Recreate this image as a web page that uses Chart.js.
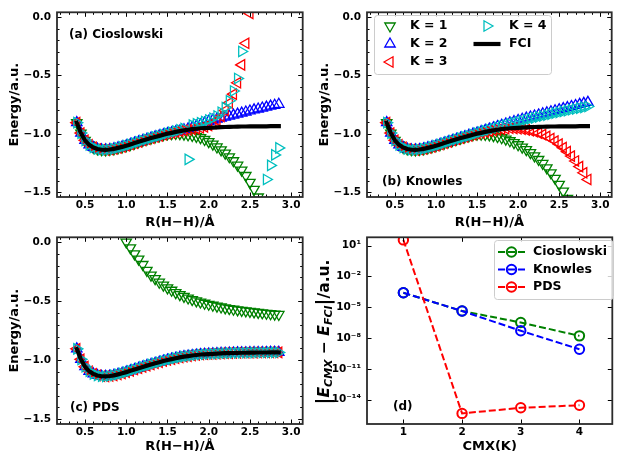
<!DOCTYPE html>
<html>
<head>
<meta charset="utf-8">
<script src="https://cdn.jsdelivr.net/npm/chart.js@4.4.1/dist/chart.umd.min.js"></script>
<style>
html, body { margin: 0; padding: 0; background: #fff; width: 619px; height: 451px; overflow: hidden; }
canvas { position: absolute; }
</style>
</head>
<body>
<canvas id="ca" width="310" height="232" style="left:0;top:0"></canvas>
<canvas id="cb" width="309" height="232" style="left:310px;top:0"></canvas>
<canvas id="cc" width="310" height="235" style="left:0;top:225px"></canvas>
<canvas id="cd" width="309" height="235" style="left:310px;top:225px"></canvas>
<script>
// bond length R(H-H) in angstrom
var xs = [0.40,0.45,0.50,0.55,0.60,0.65,0.70,0.75,0.80,0.85,0.90,0.95,1.00,1.05,1.10,1.15,1.20,1.25,1.30,1.35,
          1.40,1.45,1.50,1.55,1.60,1.65,1.70,1.75,1.80,1.85,1.90,1.95,2.00,2.05,2.10,2.15,2.20,2.25,2.30,2.35,
          2.40,2.45,2.50,2.55,2.60,2.65,2.70,2.75,2.80,2.85];

var fci = [-0.904,-0.993,-1.055,-1.094,-1.116,-1.129,-1.136,-1.137,-1.134,-1.128,-1.120,-1.111,-1.101,-1.090,-1.079,-1.068,-1.057,-1.046,-1.036,-1.026,
           -1.017,-1.007,-0.998,-0.991,-0.983,-0.976,-0.970,-0.965,-0.960,-0.956,-0.952,-0.950,-0.948,-0.946,-0.944,-0.942,-0.941,-0.940,-0.939,-0.938,
           -0.937,-0.937,-0.936,-0.936,-0.935,-0.935,-0.935,-0.934,-0.934,-0.934];

// (a) Cioslowski
var ciosK1 = [-0.904,-0.993,-1.055,-1.094,-1.116,-1.129,-1.136,-1.137,-1.134,-1.128,-1.120,-1.111,-1.101,-1.090,-1.079,-1.068,-1.057,-1.046,-1.036,-1.026,
              -1.017,-1.007,-1.001,-0.998,-0.997,-0.998,-1.002,-1.008,-1.014,-1.021,-1.032,-1.048,-1.066,-1.088,-1.112,-1.137,-1.165,-1.196,-1.230,-1.268,
              -1.310,-1.356,-1.415,-1.475,-1.540,-1.610,-1.685,-1.765,-1.850,-1.940];
var ciosK2 = [-0.904,-0.993,-1.055,-1.094,-1.116,-1.129,-1.136,-1.137,-1.134,-1.128,-1.120,-1.111,-1.101,-1.090,-1.079,-1.068,-1.057,-1.046,-1.036,-1.026,
              -1.017,-1.007,-0.998,-0.991,-0.983,-0.976,-0.966,-0.957,-0.946,-0.934,-0.922,-0.908,-0.893,-0.882,-0.873,-0.864,-0.856,-0.848,-0.840,-0.831,
              -0.822,-0.813,-0.804,-0.795,-0.787,-0.779,-0.771,-0.763,-0.755,-0.747];
var ciosK3 = [-0.904,-0.993,-1.055,-1.094,-1.116,-1.129,-1.136,-1.137,-1.134,-1.128,-1.120,-1.111,-1.101,-1.090,-1.079,-1.068,-1.057,-1.046,-1.036,-1.026,
              -1.017,-1.007,-0.998,-0.991,-0.983,-0.976,-0.970,-0.965,-0.960,-0.956,-0.948,-0.940,-0.928,-0.910,-0.885,-0.850,-0.800,-0.735,-0.660,-0.563,
              -0.410,-0.225,0.030,0.45,1.10,2.0,3.5,6.0,10.0,18.0];
var ciosK4 = [-0.904,-0.993,-1.055,-1.094,-1.116,-1.129,-1.136,-1.137,-1.134,-1.128,-1.120,-1.111,-1.101,-1.090,-1.079,-1.068,-1.057,-1.046,-1.036,-1.026,
              -1.017,-1.007,-0.995,-0.986,-0.976,-0.966,-0.955,-1.218,-0.925,-0.915,-0.905,-0.894,-0.881,-0.866,-0.847,-0.815,-0.775,-0.717,-0.633,-0.526,
              -0.295,0.35,1.2,2.8,6.5,-1.62,-1.39,-1.27,-1.18,-1.12];

// (b) Knowles
var knowK1 = [-0.904,-0.993,-1.055,-1.094,-1.116,-1.129,-1.136,-1.137,-1.134,-1.128,-1.120,-1.111,-1.101,-1.090,-1.079,-1.068,-1.057,-1.046,-1.036,-1.026,
              -1.017,-1.007,-1.003,-1.003,-1.005,-1.009,-1.015,-1.023,-1.033,-1.045,-1.059,-1.075,-1.093,-1.113,-1.135,-1.160,-1.188,-1.219,-1.253,-1.291,
              -1.333,-1.380,-1.432,-1.490,-1.553,-1.620,-1.700,-1.780,-1.870,-1.960];
var knowK2 = [-0.904,-0.993,-1.055,-1.094,-1.116,-1.129,-1.136,-1.137,-1.134,-1.128,-1.120,-1.111,-1.101,-1.090,-1.079,-1.068,-1.057,-1.046,-1.036,-1.026,
              -1.013,-1.002,-0.992,-0.981,-0.970,-0.959,-0.948,-0.937,-0.926,-0.915,-0.905,-0.895,-0.885,-0.875,-0.865,-0.856,-0.847,-0.838,-0.829,-0.820,
              -0.811,-0.802,-0.793,-0.784,-0.775,-0.766,-0.757,-0.748,-0.739,-0.730];
var knowK3 = [-0.904,-0.993,-1.055,-1.094,-1.116,-1.129,-1.136,-1.137,-1.134,-1.128,-1.120,-1.111,-1.101,-1.090,-1.079,-1.068,-1.057,-1.046,-1.036,-1.026,
              -1.017,-1.007,-0.998,-0.991,-0.983,-0.976,-0.970,-0.965,-0.960,-0.956,-0.952,-0.953,-0.956,-0.960,-0.966,-0.973,-0.982,-0.993,-1.006,-1.021,
              -1.040,-1.062,-1.088,-1.118,-1.152,-1.190,-1.232,-1.280,-1.333,-1.390];
var knowK4 = [-0.904,-0.993,-1.055,-1.094,-1.116,-1.129,-1.136,-1.137,-1.134,-1.128,-1.120,-1.111,-1.101,-1.090,-1.079,-1.068,-1.057,-1.046,-1.036,-1.026,
              -1.017,-1.007,-0.994,-0.984,-0.974,-0.964,-0.954,-0.944,-0.934,-0.924,-0.915,-0.906,-0.897,-0.888,-0.879,-0.871,-0.863,-0.855,-0.847,-0.839,
              -0.831,-0.823,-0.816,-0.808,-0.801,-0.794,-0.787,-0.780,-0.773,-0.766];

// (c) PDS: K = 2..4 sit on the FCI curve
var pdsK1 = [3.2,2.6,2.1,1.7,1.4,1.1,0.88,0.68,0.50,0.35,0.22,0.10,0.00,-0.05,-0.10,-0.145,-0.19,-0.24,-0.28,-0.31,
             -0.34,-0.365,-0.388,-0.408,-0.428,-0.445,-0.46,-0.474,-0.487,-0.498,-0.508,-0.518,-0.527,-0.535,-0.543,-0.550,-0.557,-0.563,-0.569,-0.574,
             -0.579,-0.583,-0.587,-0.591,-0.595,-0.599,-0.603,-0.607,-0.610,-0.613];
var pdsK2 = fci, pdsK3 = fci, pdsK4 = fci;

// (d) |E_CMX - E_FCI|
var cmx = [1, 2, 3, 4];
var errCios = [2.5e-4, 4.2e-6, 3.2e-7, 1.6e-8];
var errKnowles = [2.5e-4, 4.2e-6, 5.0e-8, 8.0e-10];
var errPds = [35, 4.5e-16, 1.6e-15, 2.8e-15];

var rTicks = [0.5, 1.0, 1.5, 2.0, 2.5, 3.0];
var energyTicks = [0.0, -0.5, -1.0, -1.5];
var errTicks = [1e1, 1e-2, 1e-5, 1e-8, 1e-11, 1e-14];
var errTickLabels = ['10¹', '10⁻²', '10⁻⁵', '10⁻⁸', '10⁻¹¹', '10⁻¹⁴'];
var kLabels = ['K = 1', 'K = 2', 'K = 3', 'K = 4'];
var methodLabels = ['Cioslowski', 'Knowles', 'PDS'];

Chart.defaults.font.family = "'DejaVu Sans', sans-serif";
Chart.defaults.font.weight = 'bold';
Chart.defaults.color = '#000';

var kStyle = [
    { color: '#008000', rot: 180 },
    { color: '#0000ff', rot: 0 },
    { color: '#ff0000', rot: 270 },
    { color: '#00bfbf', rot: 90 }
];
var methodColors = ['#008000', '#0000ff', '#ff0000'];

function pts(xv, yv) {
    return xv.map(function (x, i) { return { x: x, y: yv[i] }; });
}

function mark(ctx, style, rot, r, x, y) {
    ctx.beginPath();
    if (style === 'circle') {
        ctx.arc(x, y, r, 0, Math.PI * 2);
    } else {
        var t = rot * Math.PI / 180;
        ctx.moveTo(x + Math.sin(t) * r, y - Math.cos(t) * r);
        for (var k = 0; k < 2; k++) {
            t += 2 * Math.PI / 3;
            ctx.lineTo(x + Math.sin(t) * r, y - Math.cos(t) * r);
        }
        ctx.closePath();
    }
    ctx.stroke();
}

// per canvas extras: panel label, legend, minor ticks, mathtext axis title
var decorCfg = {};

var decor = {
    id: 'decor',
    afterDatasetsDraw: function (chart) {
        var cfg = decorCfg[chart.canvas.id];
        if (!cfg) return;
        var ctx = chart.ctx, a = chart.chartArea;
        var sx = chart.scales.x, sy = chart.scales.y;
        ctx.save();
        ctx.strokeStyle = '#000';
        ctx.lineWidth = 1;
        ctx.setLineDash([]);
        ctx.beginPath();
        function vTick(px, len) {
            ctx.moveTo(px, a.bottom); ctx.lineTo(px, a.bottom - len);
            ctx.moveTo(px, a.top); ctx.lineTo(px, a.top + len);
        }
        function hTick(py, len) {
            ctx.moveTo(a.left, py); ctx.lineTo(a.left + len, py);
            ctx.moveTo(a.right, py); ctx.lineTo(a.right - len, py);
        }
        sx.ticks.forEach(function (t) { vTick(Math.round(sx.getPixelForValue(t.value)) + 0.5, 4.5); });
        sy.ticks.forEach(function (t) { hTick(Math.round(sy.getPixelForValue(t.value)) + 0.5, 4.5); });
        if (cfg.xMinor) {
            for (var v = cfg.xMinor[0]; v <= cfg.xMinor[1] + 1e-9; v += cfg.xMinor[2])
                vTick(Math.round(sx.getPixelForValue(v)) + 0.5, 2.5);
        }
        if (cfg.yMinor) {
            for (var w = cfg.yMinor[0]; w <= cfg.yMinor[1] + 1e-9; w += cfg.yMinor[2])
                hTick(Math.round(sy.getPixelForValue(w)) + 0.5, 2.5);
        }
        ctx.stroke();

        ctx.strokeStyle = '#2b2b2b';
        ctx.lineWidth = 1.8;
        ctx.strokeRect(a.left, a.top, a.right - a.left, a.bottom - a.top);

        ctx.fillStyle = '#000';
        ctx.textBaseline = 'middle';
        ctx.textAlign = 'left';
        ctx.font = "bold 12px 'DejaVu Sans'";
        ctx.fillText(cfg.label.text, cfg.label.x, cfg.label.y);

        if (cfg.legend) {
            var L = cfg.legend;
            ctx.beginPath();
            ctx.roundRect(L.box[0] + 0.5, L.box[1] + 0.5, L.box[2], L.box[3], 3);
            ctx.fillStyle = 'rgba(255,255,255,0.8)';
            ctx.fill();
            ctx.strokeStyle = '#cccccc';
            ctx.lineWidth = 1;
            ctx.stroke();
            L.items.forEach(function (it) {
                var ds = chart.data.datasets[it.ds];
                if (ds.showLine) {
                    ctx.beginPath();
                    ctx.strokeStyle = ds.borderColor;
                    ctx.lineWidth = ds.borderWidth;
                    ctx.setLineDash(ds.borderDash || []);
                    ctx.moveTo(it.x - 13.5, it.y);
                    ctx.lineTo(it.x + 13.5, it.y);
                    ctx.stroke();
                    ctx.setLineDash([]);
                }
                if (ds.pointRadius > 0) {
                    ctx.strokeStyle = ds.pointBorderColor;
                    ctx.lineWidth = ds.pointBorderWidth;
                    mark(ctx, ds.pointStyle, ds.pointRotation || 0, ds.pointRadius, it.x, it.y);
                }
                ctx.fillStyle = '#000';
                ctx.font = "bold 12.5px 'DejaVu Sans'";
                ctx.fillText(ds.label, it.tx, it.y);
            });
        }

        if (cfg.mathTitle) {
            var m = cfg.mathTitle, total = 0;
            m.parts.forEach(function (p) { ctx.font = p[1]; total += ctx.measureText(p[0]).width; });
            ctx.translate(m.x, m.y);
            ctx.rotate(-Math.PI / 2);
            ctx.fillStyle = '#000';
            ctx.textBaseline = 'alphabetic';
            var cx = -total / 2;
            m.parts.forEach(function (p) {
                ctx.font = p[1];
                ctx.fillText(p[0], cx, p[2]);
                cx += ctx.measureText(p[0]).width;
            });
        }
        ctx.restore();
    }
};
Chart.register(decor);

function baseScales(xh, xpad) {
    return {
        x: {
            type: 'linear', min: 0.16, max: 3.14,
            grid: { display: false, drawTicks: false }, border: { display: false },
            afterBuildTicks: function (s) { s.ticks = rTicks.map(function (v) { return { value: v }; }); },
            afterFit: function (s) { s.height = xh; },
            ticks: { padding: 2, autoSkip: false, maxRotation: 0, font: { size: 10.5, weight: 'bold' },
                     callback: function (v) { return v.toFixed(1); } },
            title: { display: true, text: 'R(H−H)/Å', font: { size: 13, weight: 'bold' }, padding: { top: 0, bottom: xpad } }
        },
        y: {
            type: 'linear', min: -1.54, max: 0.04,
            grid: { display: false, drawTicks: false }, border: { display: false },
            afterBuildTicks: function (s) { s.ticks = energyTicks.map(function (v) { return { value: v }; }); },
            afterFit: function (s) { s.width = 57; },
            ticks: { padding: 6, autoSkip: false, font: { size: 10.5, weight: 'bold' },
                     callback: function (v) { return (v < 0 ? '−' : '') + Math.abs(v).toFixed(1); } },
            title: { display: true, text: 'Energy/a.u.', font: { size: 13, weight: 'bold' }, padding: { top: 7, bottom: 0 } }
        }
    };
}

function energyChart(id, series, padRight, xh, xpad) {
    var datasets = series.map(function (ys, k) {
        return {
            label: kLabels[k], data: pts(xs, ys), showLine: false,
            pointStyle: 'triangle', pointRotation: kStyle[k].rot, pointRadius: 6,
            pointBorderWidth: 1.3, pointBorderColor: kStyle[k].color, borderColor: kStyle[k].color,
            pointBackgroundColor: 'rgba(0,0,0,0)', order: 4 - k
        };
    });
    datasets.push({
        label: 'FCI', data: pts(xs, fci), showLine: true, borderColor: '#000', borderWidth: 4.2,
        borderCapStyle: 'square', pointRadius: 0, order: 0
    });
    return new Chart(document.getElementById(id), {
        type: 'scatter',
        data: { datasets: datasets },
        options: {
            responsive: false, animation: false, events: [],
            layout: { padding: { top: 10, right: padRight, bottom: 0, left: 0 } },
            plugins: { legend: { display: false }, tooltip: { enabled: false } },
            scales: baseScales(xh, xpad)
        }
    });
}

decorCfg.ca = { label: { text: '(a) Cioslowski', x: 69, y: 35 }, xMinor: [0.2, 3.1, 0.1], yMinor: [-1.5, 0.0, 0.1] };
decorCfg.cb = {
    label: { text: '(b) Knowles', x: 72, y: 182 }, xMinor: [0.2, 3.1, 0.1], yMinor: [-1.5, 0.0, 0.1],
    legend: {
        box: [64, 15, 177, 59],
        items: [
            { ds: 0, x: 80, y: 26, tx: 100 },
            { ds: 1, x: 80, y: 44, tx: 100 },
            { ds: 2, x: 80, y: 62, tx: 100 },
            { ds: 3, x: 177, y: 26, tx: 199 },
            { ds: 4, x: 177, y: 44, tx: 199 }
        ]
    }
};
decorCfg.cc = { label: { text: '(c) PDS', x: 70, y: 183 }, xMinor: [0.2, 3.1, 0.1], yMinor: [-1.5, 0.0, 0.1] };
decorCfg.cd = {
    label: { text: '(d)', x: 83, y: 182 },
    legend: {
        box: [184, 15, 119, 59],
        items: [
            { ds: 0, x: 201.5, y: 27, tx: 223 },
            { ds: 1, x: 201.5, y: 44.5, tx: 223 },
            { ds: 2, x: 201.5, y: 62, tx: 223 }
        ]
    },
    mathTitle: {
        x: 19, y: 107,
        parts: [
            ['|', "bold 19px 'DejaVu Sans'", 1],
            ['E', "italic bold 15.5px 'DejaVu Sans'", 0],
            ['CMX', "italic bold 11px 'DejaVu Sans'", 3],
            [' − ', "bold 15.5px 'DejaVu Sans'", 0],
            ['E', "italic bold 15.5px 'DejaVu Sans'", 0],
            ['FCI', "italic bold 11px 'DejaVu Sans'", 3],
            ['|', "bold 19px 'DejaVu Sans'", 1],
            ['/a.u.', "bold 15.5px 'DejaVu Sans'", 0]
        ]
    }
};

energyChart('ca', [ciosK1, ciosK2, ciosK3, ciosK4], 2, 35, 2);
energyChart('cb', [knowK1, knowK2, knowK3, knowK4], 1, 35, 2);
energyChart('cc', [pdsK1, pdsK2, pdsK3, pdsK4], 2, 36, 6);

var errSeries = [errCios, errKnowles, errPds];
new Chart(document.getElementById('cd'), {
    type: 'scatter',
    data: {
        datasets: errSeries.map(function (ys, i) {
            return {
                label: methodLabels[i], data: pts(cmx, ys), showLine: true,
                borderColor: methodColors[i], borderWidth: 2, borderDash: [7, 3],
                pointStyle: 'circle', pointRadius: 4.7, pointBorderWidth: 2,
                pointBorderColor: methodColors[i], pointBackgroundColor: 'rgba(0,0,0,0)', order: 3 - i
            };
        })
    },
    options: {
        responsive: false, animation: false, events: [],
        layout: { padding: { top: 10, right: 1, bottom: 0, left: 0 } },
        plugins: { legend: { display: false }, tooltip: { enabled: false } },
        scales: {
            x: {
                type: 'linear', min: 0.38, max: 4.56,
                grid: { display: false, drawTicks: false }, border: { display: false },
                afterBuildTicks: function (s) { s.ticks = cmx.map(function (v) { return { value: v }; }); },
                afterFit: function (s) { s.height = 36; },
                ticks: { padding: 2, autoSkip: false, maxRotation: 0, font: { size: 10.5, weight: 'bold' },
                         callback: function (v) { return String(v); } },
                title: { display: true, text: 'CMX(K)', font: { size: 13, weight: 'bold' }, padding: { top: 0, bottom: 6 } }
            },
            y: {
                type: 'logarithmic', min: 4.2e-17, max: 63,
                grid: { display: false, drawTicks: false }, border: { display: false },
                afterBuildTicks: function (s) { s.ticks = errTicks.map(function (v) { return { value: v }; }); },
                afterFit: function (s) { s.width = 57; },
                ticks: { padding: 6, autoSkip: false, font: { size: 10.5, weight: 'bold' },
                         callback: function (v, i) { return errTickLabels[i]; } },
                title: { display: false }
            }
        }
    }
});
</script>
</body>
</html>
